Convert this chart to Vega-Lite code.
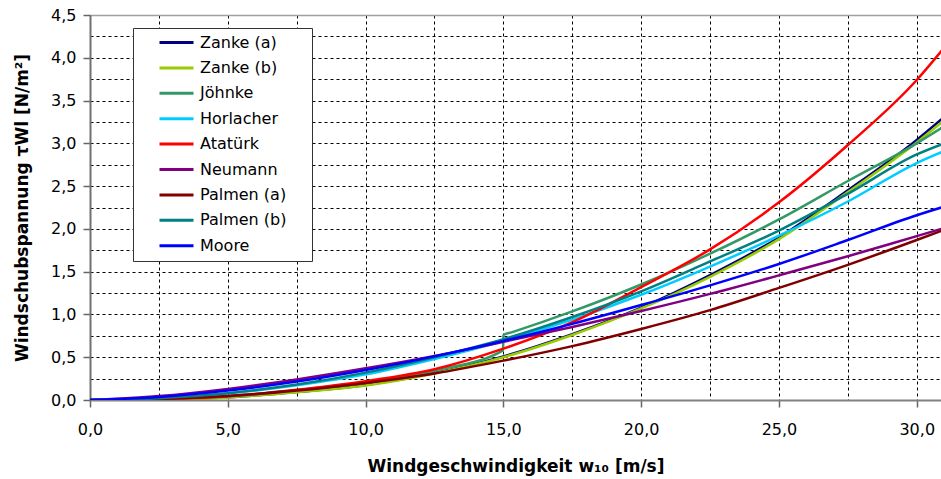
{
  "$schema": "https://vega.github.io/schema/vega-lite/v6.json",
  "width": 851,
  "height": 385,
  "autosize": {"type": "none"},
  "padding": {"left": 90, "top": 15, "right": 0, "bottom": 79},
  "background": "white",
  "config": {"view": {"stroke": null}, "font": "DejaVu Sans"},
  "data": {
    "values": [
      {"s": "Zanke (a)", "w": 0, "tau": 0}, {"s": "Zanke (a)", "w": 2.5, "tau": 0.007}, {"s": "Zanke (a)", "w": 5, "tau": 0.032}, {"s": "Zanke (a)", "w": 7.5, "tau": 0.093}, {"s": "Zanke (a)", "w": 10, "tau": 0.175}, {"s": "Zanke (a)", "w": 12.5, "tau": 0.315}, {"s": "Zanke (a)", "w": 15, "tau": 0.51}, {"s": "Zanke (a)", "w": 17.5, "tau": 0.77}, {"s": "Zanke (a)", "w": 20, "tau": 1.08}, {"s": "Zanke (a)", "w": 22.5, "tau": 1.46}, {"s": "Zanke (a)", "w": 25, "tau": 1.9}, {"s": "Zanke (a)", "w": 27.5, "tau": 2.45}, {"s": "Zanke (a)", "w": 30, "tau": 3.04}, {"s": "Zanke (a)", "w": 31, "tau": 3.31},
      {"s": "Zanke (b)", "w": 0, "tau": 0}, {"s": "Zanke (b)", "w": 2.5, "tau": 0.006}, {"s": "Zanke (b)", "w": 5, "tau": 0.03}, {"s": "Zanke (b)", "w": 7.5, "tau": 0.09}, {"s": "Zanke (b)", "w": 10, "tau": 0.17}, {"s": "Zanke (b)", "w": 12.5, "tau": 0.31}, {"s": "Zanke (b)", "w": 15, "tau": 0.5}, {"s": "Zanke (b)", "w": 17.5, "tau": 0.76}, {"s": "Zanke (b)", "w": 20, "tau": 1.07}, {"s": "Zanke (b)", "w": 22.5, "tau": 1.44}, {"s": "Zanke (b)", "w": 25, "tau": 1.88}, {"s": "Zanke (b)", "w": 27.5, "tau": 2.43}, {"s": "Zanke (b)", "w": 30, "tau": 3.01}, {"s": "Zanke (b)", "w": 31, "tau": 3.27},
      {"s": "Jöhnke", "w": 0, "tau": 0}, {"s": "Jöhnke", "w": 2.5, "tau": 0.01}, {"s": "Jöhnke", "w": 5, "tau": 0.042}, {"s": "Jöhnke", "w": 7.5, "tau": 0.115}, {"s": "Jöhnke", "w": 10, "tau": 0.21}, {"s": "Jöhnke", "w": 12.5, "tau": 0.345}, {"s": "Jöhnke", "w": 14.99, "tau": 0.58}, {"s": "Jöhnke", "w": 15, "tau": 0.76}, {"s": "Jöhnke", "w": 15.3, "tau": 0.791}, {"s": "Jöhnke", "w": 17.5, "tau": 1.035}, {"s": "Jöhnke", "w": 20, "tau": 1.35}, {"s": "Jöhnke", "w": 22.5, "tau": 1.71}, {"s": "Jöhnke", "w": 25, "tau": 2.11}, {"s": "Jöhnke", "w": 27.5, "tau": 2.56}, {"s": "Jöhnke", "w": 30, "tau": 3.0}, {"s": "Jöhnke", "w": 31, "tau": 3.2},
      {"s": "Horlacher", "w": 0, "tau": 0}, {"s": "Horlacher", "w": 2.5, "tau": 0.019}, {"s": "Horlacher", "w": 5, "tau": 0.077}, {"s": "Horlacher", "w": 7.5, "tau": 0.173}, {"s": "Horlacher", "w": 10, "tau": 0.3}, {"s": "Horlacher", "w": 12.5, "tau": 0.48}, {"s": "Horlacher", "w": 15, "tau": 0.69}, {"s": "Horlacher", "w": 17.5, "tau": 0.94}, {"s": "Horlacher", "w": 20, "tau": 1.23}, {"s": "Horlacher", "w": 22.5, "tau": 1.56}, {"s": "Horlacher", "w": 25, "tau": 1.92}, {"s": "Horlacher", "w": 27.5, "tau": 2.32}, {"s": "Horlacher", "w": 30, "tau": 2.77}, {"s": "Horlacher", "w": 31, "tau": 2.91},
      {"s": "Atatürk", "w": 0, "tau": 0}, {"s": "Atatürk", "w": 2.5, "tau": 0.01}, {"s": "Atatürk", "w": 5, "tau": 0.045}, {"s": "Atatürk", "w": 7.5, "tau": 0.12}, {"s": "Atatürk", "w": 10, "tau": 0.22}, {"s": "Atatürk", "w": 12.5, "tau": 0.36}, {"s": "Atatürk", "w": 15, "tau": 0.6}, {"s": "Atatürk", "w": 17.5, "tau": 0.91}, {"s": "Atatürk", "w": 20, "tau": 1.32}, {"s": "Atatürk", "w": 22.5, "tau": 1.76}, {"s": "Atatürk", "w": 25, "tau": 2.31}, {"s": "Atatürk", "w": 27.5, "tau": 2.98}, {"s": "Atatürk", "w": 30, "tau": 3.74}, {"s": "Atatürk", "w": 31, "tau": 4.12},
      {"s": "Neumann", "w": 0, "tau": 0}, {"s": "Neumann", "w": 2.5, "tau": 0.046}, {"s": "Neumann", "w": 5, "tau": 0.13}, {"s": "Neumann", "w": 7.5, "tau": 0.24}, {"s": "Neumann", "w": 10, "tau": 0.37}, {"s": "Neumann", "w": 12.5, "tau": 0.515}, {"s": "Neumann", "w": 15, "tau": 0.68}, {"s": "Neumann", "w": 17.5, "tau": 0.853}, {"s": "Neumann", "w": 20, "tau": 1.04}, {"s": "Neumann", "w": 22.5, "tau": 1.24}, {"s": "Neumann", "w": 25, "tau": 1.457}, {"s": "Neumann", "w": 27.5, "tau": 1.68}, {"s": "Neumann", "w": 30, "tau": 1.916}, {"s": "Neumann", "w": 31, "tau": 2.01},
      {"s": "Palmen (a)", "w": 0, "tau": 0}, {"s": "Palmen (a)", "w": 2.5, "tau": 0.012}, {"s": "Palmen (a)", "w": 5, "tau": 0.048}, {"s": "Palmen (a)", "w": 7.5, "tau": 0.11}, {"s": "Palmen (a)", "w": 10, "tau": 0.2}, {"s": "Palmen (a)", "w": 12.5, "tau": 0.31}, {"s": "Palmen (a)", "w": 15, "tau": 0.46}, {"s": "Palmen (a)", "w": 17.5, "tau": 0.63}, {"s": "Palmen (a)", "w": 20, "tau": 0.83}, {"s": "Palmen (a)", "w": 22.5, "tau": 1.05}, {"s": "Palmen (a)", "w": 25, "tau": 1.31}, {"s": "Palmen (a)", "w": 27.5, "tau": 1.58}, {"s": "Palmen (a)", "w": 30, "tau": 1.87}, {"s": "Palmen (a)", "w": 31, "tau": 1.99},
      {"s": "Palmen (b)", "w": 0, "tau": 0}, {"s": "Palmen (b)", "w": 2.5, "tau": 0.02}, {"s": "Palmen (b)", "w": 5, "tau": 0.08}, {"s": "Palmen (b)", "w": 7.5, "tau": 0.18}, {"s": "Palmen (b)", "w": 10, "tau": 0.32}, {"s": "Palmen (b)", "w": 12.5, "tau": 0.5}, {"s": "Palmen (b)", "w": 15, "tau": 0.71}, {"s": "Palmen (b)", "w": 17.5, "tau": 0.97}, {"s": "Palmen (b)", "w": 20, "tau": 1.27}, {"s": "Palmen (b)", "w": 22.5, "tau": 1.62}, {"s": "Palmen (b)", "w": 25, "tau": 1.98}, {"s": "Palmen (b)", "w": 27.5, "tau": 2.41}, {"s": "Palmen (b)", "w": 30, "tau": 2.87}, {"s": "Palmen (b)", "w": 31, "tau": 3.0},
      {"s": "Moore", "w": 0, "tau": 0}, {"s": "Moore", "w": 2.5, "tau": 0.035}, {"s": "Moore", "w": 5, "tau": 0.11}, {"s": "Moore", "w": 7.5, "tau": 0.215}, {"s": "Moore", "w": 10, "tau": 0.35}, {"s": "Moore", "w": 12.5, "tau": 0.51}, {"s": "Moore", "w": 15, "tau": 0.69}, {"s": "Moore", "w": 17.5, "tau": 0.89}, {"s": "Moore", "w": 20, "tau": 1.11}, {"s": "Moore", "w": 22.5, "tau": 1.34}, {"s": "Moore", "w": 25, "tau": 1.59}, {"s": "Moore", "w": 27.5, "tau": 1.87}, {"s": "Moore", "w": 30, "tau": 2.16}, {"s": "Moore", "w": 31, "tau": 2.26}
    ]
  },
  "mark": {"type": "line", "strokeWidth": 2.5, "clip": true, "interpolate": "monotone"},
  "encoding": {
    "x": {
      "field": "w",
      "type": "quantitative",
      "scale": {"domain": [0, 30.88], "nice": false},
      "axis": {
        "values": [0, 2.5, 5, 7.5, 10, 12.5, 15, 17.5, 20, 22.5, 25, 27.5, 30],
        "title": "Windgeschwindigkeit w₁₀ [m/s]",
        "titleFont": "DejaVu Sans",
        "titleFontWeight": "bold",
        "titleFontSize": 17,
        "titleColor": "black",
        "titlePadding": 21,
        "labelExpr": "datum.value % 5 === 0 ? replace(format(datum.value, '.1f'), '.', ',') : ''",
        "labelFont": "DejaVu Sans",
        "labelFontSize": 16,
        "labelColor": "black",
        "labelPadding": 14,
        "labelFlush": false,
        "labelOverlap": false,
        "tickSize": 7,
        "tickWidth": 1.5,
        "tickColor": {"condition": {"test": "datum.value % 5 === 0", "value": "#666666"}, "value": "transparent"},
        "domainColor": "#808080",
        "domainWidth": 2,
        "grid": true,
        "gridColor": "black",
        "gridOpacity": 1,
        "gridWidth": 1,
        "gridDash": [3, 3]
      }
    },
    "y": {
      "field": "tau",
      "type": "quantitative",
      "scale": {"domain": [0, 4.5], "nice": false},
      "axis": {
        "values": [0, 0.25, 0.5, 0.75, 1, 1.25, 1.5, 1.75, 2, 2.25, 2.5, 2.75, 3, 3.25, 3.5, 3.75, 4, 4.25, 4.5],
        "title": "Windschubspannung τWl [N/m²]",
        "titleFont": "DejaVu Sans",
        "titleFontWeight": "bold",
        "titleFontSize": 17,
        "titleColor": "black",
        "titlePadding": 19,
        "labelExpr": "(datum.value * 2) % 1 === 0 ? replace(format(datum.value, '.1f'), '.', ',') : ''",
        "labelFont": "DejaVu Sans",
        "labelFontSize": 16,
        "labelColor": "black",
        "labelPadding": 7,
        "labelFlush": false,
        "labelOverlap": false,
        "tickSize": 7,
        "tickWidth": 1.5,
        "tickColor": {"condition": {"test": "(datum.value * 2) % 1 === 0", "value": "#666666"}, "value": "transparent"},
        "domainColor": "#707070",
        "domainWidth": 2,
        "grid": true,
        "gridColor": {"condition": {"test": "datum.value >= 4.5", "value": "#a0a0a0"}, "value": "black"},
        "gridOpacity": 1,
        "gridWidth": {"condition": {"test": "datum.value >= 4.5", "value": 1.5}, "value": 1},
        "gridDash": {"condition": {"test": "datum.value >= 4.5", "value": []}, "value": [3, 3]}
      }
    },
    "color": {
      "field": "s",
      "type": "nominal",
      "sort": ["Zanke (a)", "Zanke (b)", "Jöhnke", "Horlacher", "Atatürk", "Neumann", "Palmen (a)", "Palmen (b)", "Moore"],
      "scale": {
        "domain": ["Zanke (a)", "Zanke (b)", "Jöhnke", "Horlacher", "Atatürk", "Neumann", "Palmen (a)", "Palmen (b)", "Moore"],
        "range": ["#000080", "#99CC00", "#339966", "#00CCFF", "#FF0000", "#800080", "#800000", "#008080", "#0000FF"]
      },
      "legend": {
        "orient": "none",
        "legendX": 43,
        "legendY": 13,
        "title": "\u00a0",
        "titleOrient": "right",
        "titlePadding": 19,
        "titleFontSize": 4,
        "symbolType": "stroke",
        "symbolSize": 1156,
        "symbolStrokeWidth": 3,
        "labelFont": "DejaVu Sans",
        "labelFontSize": 16,
        "labelColor": "black",
        "labelOffset": 5,
        "labelLimit": 300,
        "clipHeight": 16,
        "rowPadding": 9.4,
        "padding": 6.5,
        "symbolOffset": 18.5,
        "strokeColor": "#333333",
        "fillColor": "white"
      }
    }
  }
}
